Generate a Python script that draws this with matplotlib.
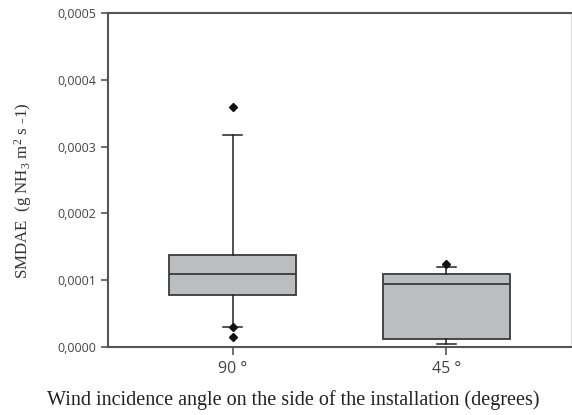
import matplotlib
matplotlib.use("Agg")
import matplotlib.pyplot as plt

plt.rcParams["mathtext.fontset"] = "custom"
plt.rcParams["mathtext.rm"] = "Liberation Serif"
plt.rcParams["mathtext.it"] = "Liberation Serif:italic"
plt.rcParams["mathtext.bf"] = "Liberation Serif:bold"

# Data
categories = ["90 °", "45 °"]
q1 = [0.78e-4, 0.115e-4]
median = [1.10e-4, 0.94e-4]
q3 = [1.375e-4, 1.10e-4]
whisker_low = [0.30e-4, 0.04e-4]
whisker_high = [3.18e-4, 1.20e-4]
outliers = [[3.59e-4, 0.30e-4, 0.145e-4], [1.24e-4]]
ytick_values = [0.0, 0.0001, 0.0002, 0.0003, 0.0004, 0.0005]
ytick_labels = ["0,0000", "0,0001", "0,0002", "0,0003", "0,0004", "0,0005"]

stats = []
for i, c in enumerate(categories):
    stats.append(dict(label=c, q1=q1[i], med=median[i], q3=q3[i],
                      whislo=whisker_low[i], whishi=whisker_high[i],
                      fliers=outliers[i]))

fig = plt.figure(figsize=(5.72, 4.15), dpi=100)
ax = fig.add_axes([0.1888, 0.1639, 0.8092, 0.8048])

positions = [1, 2]
ax.bxp(stats, positions=positions, widths=0.594, patch_artist=True,
       boxprops=dict(facecolor="#bcbdc0", edgecolor="#3a3a3a", linewidth=1.3),
       medianprops=dict(color="#3a3a3a", linewidth=1.3),
       whiskerprops=dict(color="#222222", linewidth=1.1),
       capprops=dict(color="#222222", linewidth=1.1),
       capwidths=0.09,
       flierprops=dict(marker="D", markerfacecolor="#111111",
                       markeredgecolor="#111111", markersize=4.5))

ax.set_xlim(0.416, 2.584)
ax.set_ylim(0, 0.0005)
ax.set_yticks(ytick_values)
ax.set_yticklabels(ytick_labels, fontfamily="Open Sans", fontsize=9, color="#444444")
ax.set_xticks(positions)
ax.set_xticklabels(categories, fontfamily="Open Sans", fontsize=11.5, color="#444444")
ax.tick_params(axis="y", direction="out", length=5, width=1.2, color="#555555", pad=3.5)
ax.tick_params(axis="x", direction="out", length=6, width=1.2, color="#555555", pad=4)

for s in ["left", "bottom", "top"]:
    ax.spines[s].set_color("#555555")
    ax.spines[s].set_linewidth(1.5)
ax.spines["right"].set_color("#dddddd")
ax.spines["right"].set_linewidth(0.8)

ax.set_ylabel(r"SMDAE  (g NH$_3$ m$^2$ s -1)", fontfamily="Liberation Serif",
              fontsize=12.2, color="#333333")
ax.yaxis.set_label_coords(-0.16, 0.467)
ax.set_xlabel("Wind incidence angle on the side of the installation (degrees)",
              fontfamily="Liberation Serif", fontsize=14.5, color="#222222")
ax.xaxis.set_label_coords(0.40, -0.13)

fig.savefig("out.png", dpi=100)
